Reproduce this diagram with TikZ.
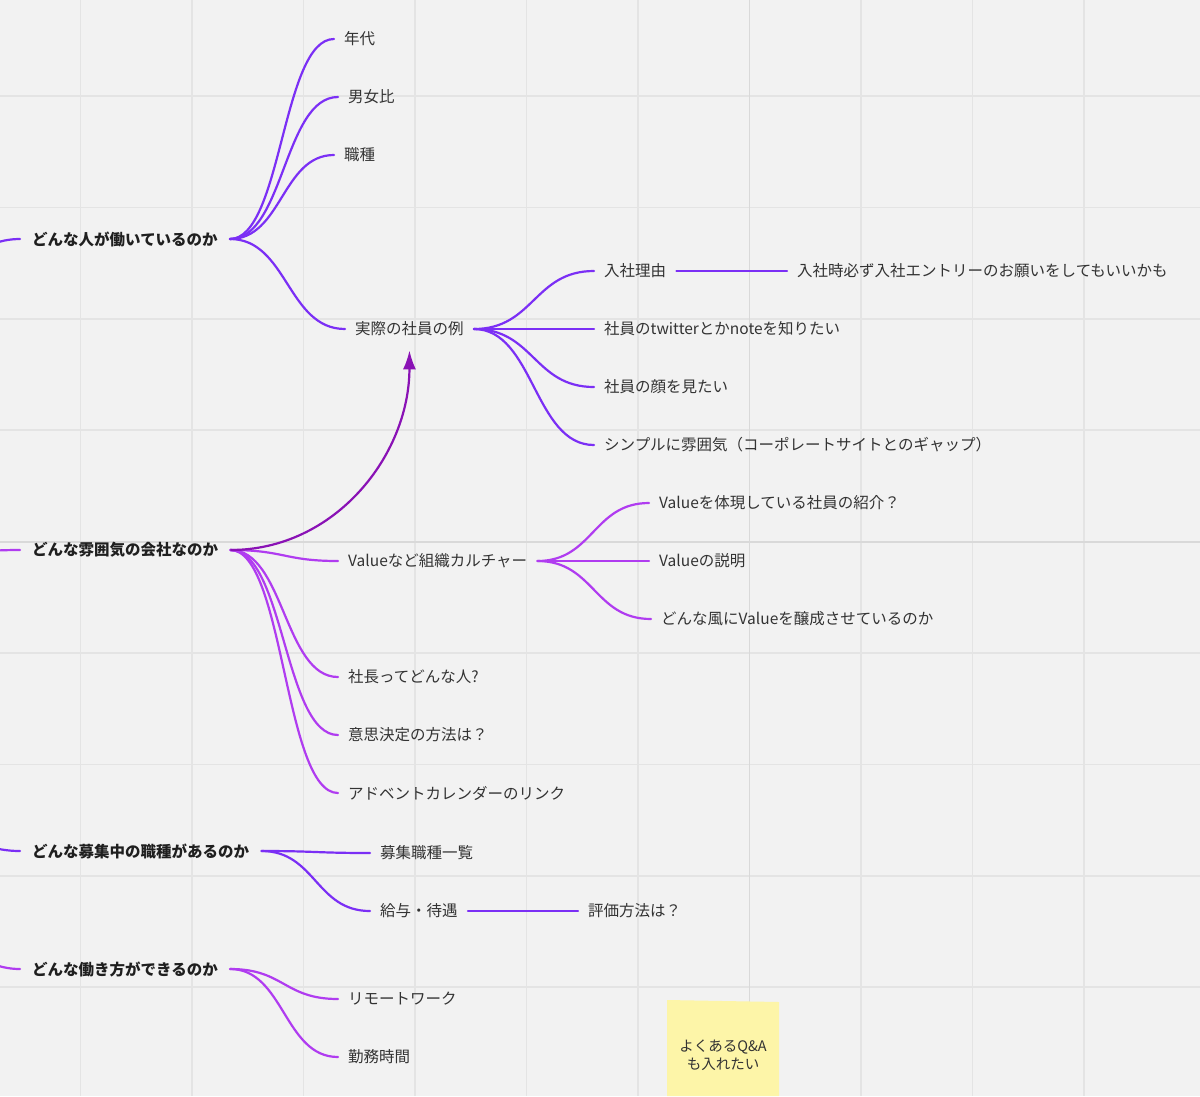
\documentclass[tikz,border=0pt]{standalone}
\usepackage{fontspec}
\setmainfont{Noto Sans CJK JP}
\usetikzlibrary{arrows.meta, calc}
\definecolor{bggray}{HTML}{F2F2F2}
\definecolor{gridgray}{HTML}{E4E4E4}
\definecolor{griddark}{HTML}{D9D9D9}
\definecolor{violetA}{HTML}{7B2FF5}
\definecolor{violetB}{HTML}{B03CF0}
\definecolor{arrowpurple}{HTML}{8A12B5}
\definecolor{textgray}{HTML}{333333}
\definecolor{textdark}{HTML}{1F1F1F}
\definecolor{stickyyellow}{HTML}{FDF5A8}

\begin{document}
\begin{tikzpicture}[x=1pt, y=-1pt,
    gridline/.style={draw=gridgray, line width=1.5pt},
    gridmajor/.style={draw=griddark, line width=1.5pt},
    root/.style={anchor=west, inner xsep=12pt, inner ysep=5pt, text=textdark, font=\bfseries\fontsize{15.5}{18}\selectfont},
    leaf/.style={anchor=west, inner xsep=10pt, inner ysep=5pt, text=textgray, font=\fontsize{15.5}{18}\selectfont},
    branch/.style={line width=2.2pt, line cap=round,
      to path={let \p1=(\tikztostart), \p2=(\tikztotarget) in
        .. controls ({(\x1+\x2)/2},\y1) and ({(\x1+\x2)/2},\y2) .. (\tikztotarget)}},
    note/.style={align=center, text=textgray, font=\fontsize{14.5}{18}\selectfont}
  ]
    % Background and grid
    \fill[bggray] (0,0) rectangle (1200,1096);
    \useasboundingbox (0,0) rectangle (1200,1096);
    \foreach \i in {0,...,9}
      \draw[gridline] ({80.5+111.5*\i},0) -- ({80.5+111.5*\i},1096);
    \foreach \j in {0,...,8}
      \draw[gridline] (0,{96+111.4*\j}) -- (1200,{96+111.4*\j});
    \draw[gridmajor] (749.5,0) -- (749.5,1096);
    \draw[gridmajor] (0,541.8) -- (1200,541.8);

    % Sticky note
    \fill[stickyyellow] (667,1000) -- (779,1002) -- (779,1096) -- (667,1096) -- cycle;
    \node[note] (qanote) at (723,1055) {よくあるQ\&A\\も入れたい};

    % Topics
    \node[root] (people) at (20,239) {どんな人が働いているのか};
    \node[root] (mood) at (20,550) {どんな雰囲気の会社なのか};
    \node[root] (jobs) at (20,851) {どんな募集中の職種があるのか};
    \node[root] (style) at (20,969) {どんな働き方ができるのか};
    \coordinate (mapcenter) at (-260,600);

    % Incoming branches from the left
    \begin{scope}
      \clip (0,0) rectangle (1200,1096);
      \draw[branch, violetA] (mapcenter) to (people.west);
      \draw[branch, violetB] (mapcenter) to (mood.west);
      \draw[branch, violetA] (mapcenter) to (jobs.west);
      \draw[branch, violetB] (mapcenter) to (style.west);
    \end{scope}

    % People
    \node[leaf] (nendai) at (334,39) {年代};
    \node[leaf] (danjo) at (338,97) {男女比};
    \node[leaf] (shokushu) at (334,155) {職種};
    \node[leaf] (jirei) at (345,329) {実際の社員の例};
    \node[leaf] (riyu) at (594,271) {入社理由};
    \node[leaf] (entry) at (787,271) {入社時必ず入社エントリーのお願いをしてもいいかも};
    \node[leaf] (sns) at (594,329) {社員のtwitterとかnoteを知りたい};
    \node[leaf] (kao) at (594,387) {社員の顔を見たい};
    \node[leaf] (simple) at (594,445) {シンプルに雰囲気（コーポレートサイトとのギャップ）};
    \foreach \c in {nendai, danjo, shokushu, jirei}
      \draw[branch, violetA] (people.east) to (\c.west);
    \foreach \c in {riyu, sns, kao, simple}
      \draw[branch, violetA] (jirei.east) to (\c.west);
    \draw[branch, violetA] (riyu.east) -- (entry.west);

    % Mood
    \node[leaf] (culture) at (338,561) {Valueなど組織カルチャー};
    \node[leaf] (taigen) at (649,503) {Valueを体現している社員の紹介？};
    \node[leaf] (setsumei) at (649,561) {Valueの説明};
    \node[leaf] (jousei) at (651,619) {どんな風にValueを醸成させているのか};
    \node[leaf] (shacho) at (338,677) {社長ってどんな人?};
    \node[leaf] (ishi) at (338,735) {意思決定の方法は？};
    \node[leaf] (advent) at (338,793) {アドベントカレンダーのリンク};
    \foreach \c in {culture, shacho, ishi, advent}
      \draw[branch, violetB] (mood.east) to (\c.west);
    \foreach \c in {taigen, setsumei, jousei}
      \draw[branch, violetB] (culture.east) to (\c.west);
    \draw[arrowpurple, line width=2.2pt, -{Latex[length=19pt, width=13pt]}]
      (mood.east) to[out=0, in=-90] ([yshift=-9pt]jirei.south);

    % Jobs
    \node[leaf] (ichiran) at (370,853) {募集職種一覧};
    \node[leaf] (kyuyo) at (370,911) {給与・待遇};
    \node[leaf] (hyoka) at (578,911) {評価方法は？};
    \foreach \c in {ichiran, kyuyo}
      \draw[branch, violetA] (jobs.east) to (\c.west);
    \draw[branch, violetA] (kyuyo.east) -- (hyoka.west);

    % Work style
    \node[leaf] (remote) at (338,999) {リモートワーク};
    \node[leaf] (kinmu) at (338,1057) {勤務時間};
    \foreach \c in {remote, kinmu}
      \draw[branch, violetB] (style.east) to (\c.west);
\end{tikzpicture}
\end{document}
